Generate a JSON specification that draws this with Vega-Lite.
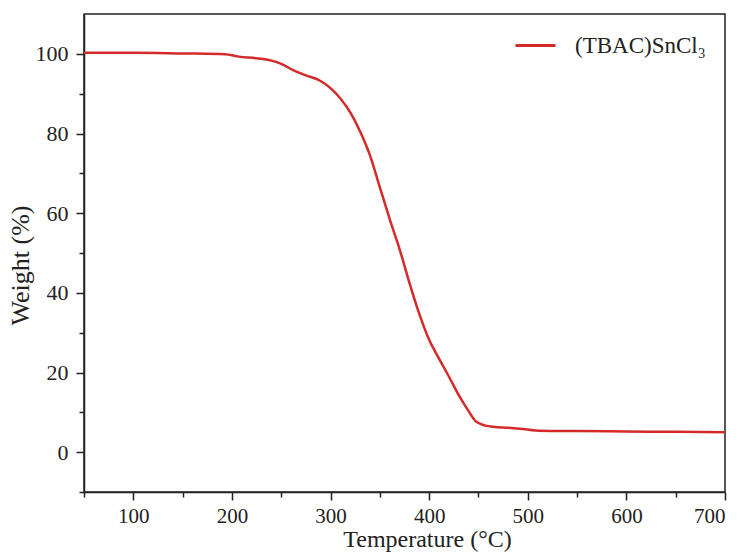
{
  "$schema": "https://vega.github.io/schema/vega-lite/v6.json",
  "width": 641,
  "height": 478,
  "autosize": {"type": "none"},
  "padding": {"left": 84, "top": 14, "right": 20, "bottom": 64},
  "background": "white",
  "config": {
    "view": {"stroke": "#222", "strokeWidth": 1.5},
    "font": "Liberation Serif",
    "axis": {
      "labelFont": "Liberation Serif",
      "titleFont": "Liberation Serif",
      "labelFontSize": 21,
      "titleFontSize": 24,
      "labelColor": "#222",
      "titleColor": "#222",
      "titleFontWeight": "normal",
      "domainColor": "#222",
      "domainWidth": 1.5,
      "tickColor": "#222",
      "tickWidth": 1.5,
      "grid": false
    }
  },
  "data": {
    "values": [
      {"t": 50, "w": 100.3, "s": "(TBAC)SnCl₃"},
      {"t": 100, "w": 100.3, "s": "(TBAC)SnCl₃"},
      {"t": 150, "w": 100.1, "s": "(TBAC)SnCl₃"},
      {"t": 193, "w": 99.9, "s": "(TBAC)SnCl₃"},
      {"t": 207, "w": 99.3, "s": "(TBAC)SnCl₃"},
      {"t": 225, "w": 98.9, "s": "(TBAC)SnCl₃"},
      {"t": 240, "w": 98.3, "s": "(TBAC)SnCl₃"},
      {"t": 250, "w": 97.5, "s": "(TBAC)SnCl₃"},
      {"t": 262, "w": 95.9, "s": "(TBAC)SnCl₃"},
      {"t": 275, "w": 94.6, "s": "(TBAC)SnCl₃"},
      {"t": 289, "w": 93.3, "s": "(TBAC)SnCl₃"},
      {"t": 300, "w": 91.4, "s": "(TBAC)SnCl₃"},
      {"t": 310, "w": 88.8, "s": "(TBAC)SnCl₃"},
      {"t": 320, "w": 85.3, "s": "(TBAC)SnCl₃"},
      {"t": 330, "w": 80.5, "s": "(TBAC)SnCl₃"},
      {"t": 340, "w": 74.5, "s": "(TBAC)SnCl₃"},
      {"t": 350, "w": 66.5, "s": "(TBAC)SnCl₃"},
      {"t": 360, "w": 58.5, "s": "(TBAC)SnCl₃"},
      {"t": 370, "w": 51, "s": "(TBAC)SnCl₃"},
      {"t": 380, "w": 42.5, "s": "(TBAC)SnCl₃"},
      {"t": 390, "w": 34.7, "s": "(TBAC)SnCl₃"},
      {"t": 400, "w": 28.2, "s": "(TBAC)SnCl₃"},
      {"t": 410, "w": 23.5, "s": "(TBAC)SnCl₃"},
      {"t": 420, "w": 19, "s": "(TBAC)SnCl₃"},
      {"t": 430, "w": 14.3, "s": "(TBAC)SnCl₃"},
      {"t": 440, "w": 10.3, "s": "(TBAC)SnCl₃"},
      {"t": 447, "w": 7.8, "s": "(TBAC)SnCl₃"},
      {"t": 452, "w": 7.1, "s": "(TBAC)SnCl₃"},
      {"t": 458, "w": 6.6, "s": "(TBAC)SnCl₃"},
      {"t": 465, "w": 6.4, "s": "(TBAC)SnCl₃"},
      {"t": 480, "w": 6.1, "s": "(TBAC)SnCl₃"},
      {"t": 495, "w": 5.8, "s": "(TBAC)SnCl₃"},
      {"t": 512, "w": 5.4, "s": "(TBAC)SnCl₃"},
      {"t": 550, "w": 5.3, "s": "(TBAC)SnCl₃"},
      {"t": 600, "w": 5.2, "s": "(TBAC)SnCl₃"},
      {"t": 650, "w": 5.1, "s": "(TBAC)SnCl₃"},
      {"t": 700, "w": 5.0, "s": "(TBAC)SnCl₃"}
    ]
  },
  "layer": [
    {
      "mark": {"type": "line", "strokeWidth": 2.5, "interpolate": "monotone", "clip": true},
      "encoding": {
        "x": {
          "field": "t", "type": "quantitative",
          "scale": {"domain": [50, 700], "nice": false, "zero": false},
          "axis": {"orient": "bottom", "values": [100, 200, 300, 400, 500, 600, 700], "tickSize": 8, "labelPadding": 5, "title": "Temperature (°C)", "titlePadding": 1, "titleX": 343}
        },
        "y": {
          "field": "w", "type": "quantitative",
          "scale": {"domain": [-10, 110], "nice": false, "zero": false},
          "axis": {"orient": "left", "values": [0, 20, 40, 60, 80, 100], "tickSize": 8, "labelPadding": 8, "labelFontSize": 22, "title": "Weight (%)", "titleFontSize": 26, "titlePadding": 2, "titleY": 251}
        },
        "color": {
          "field": "s", "type": "nominal",
          "scale": {"range": ["#d42a2a"]},
          "legend": {
            "title": null,
            "orient": "none",
            "legendX": 430,
            "legendY": 10,
            "symbolType": "stroke",
            "symbolSize": 1600,
            "symbolStrokeWidth": 3,
            "labelFont": "Liberation Serif",
            "labelFontSize": 23,
            "labelColor": "#222",
            "labelOffset": 18,
            "labelLimit": 300
          }
        }
      }
    },
    {
      "mark": {"type": "line", "opacity": 0},
      "encoding": {
        "x": {
          "field": "t", "type": "quantitative",
          "axis": {"orient": "bottom", "values": [50, 150, 250, 350, 450, 550, 650], "tickSize": 5, "labels": false, "domain": false, "title": null}
        },
        "y": {
          "field": "w", "type": "quantitative",
          "axis": {"orient": "left", "values": [-10, 10, 30, 50, 70, 90], "tickSize": 5, "labels": false, "domain": false, "title": null}
        }
      }
    }
  ],
  "resolve": {"axis": {"x": "independent", "y": "independent"}}
}
